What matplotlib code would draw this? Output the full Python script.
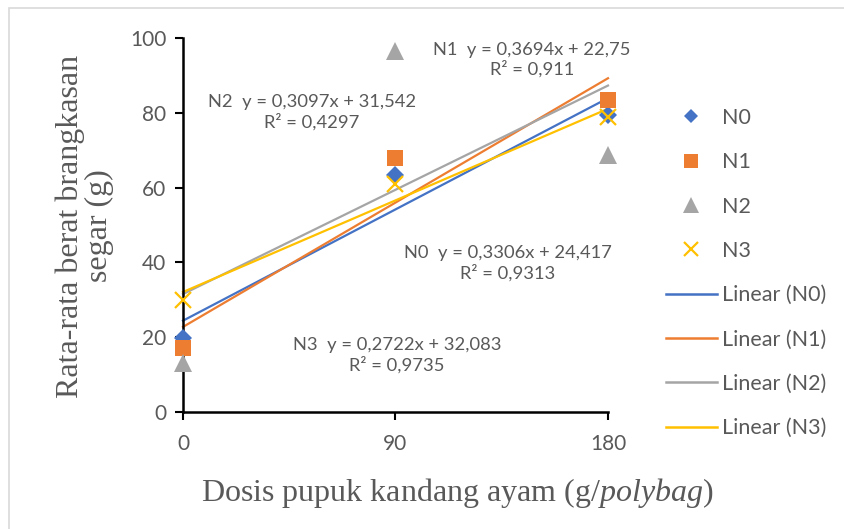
import matplotlib
matplotlib.use('Agg')
import matplotlib.pyplot as plt
import numpy as np
from matplotlib.patches import Rectangle
from matplotlib.lines import Line2D

# data
dosis = [0, 90, 180]
n0 = [19.8, 63.5, 79.3]
n1 = [17.0, 68.0, 83.5]
n2 = [13.0, 96.5, 68.7]
n3 = [30.0, 61.0, 79.0]
series_names = ["N0", "N1", "N2", "N3"]
slopes = [0.3306, 0.3694, 0.3097, 0.2722]
intercepts = [24.417, 22.75, 31.542, 32.083]
r2 = ["0,9313", "0,911", "0,4297", "0,9735"]
eq_text = ["y = 0,3306x + 24,417", "y = 0,3694x + 22,75",
           "y = 0,3097x + 31,542", "y = 0,2722x + 32,083"]
# label anchor points (data coords) for the trendline equations
eq_pos = [(137.6, 39.8), (147.8, 94.2), (54.6, 80.2), (90.6, 15.2)]

colors = ["#4472C4", "#ED7D31", "#A5A5A5", "#FFC000"]
markers = ["D", "s", "^", "x"]
msizes = [8.8, 12.2, 12.7, 12]
leg_msizes = [7.5, 10.5, 11, 10.5]
gray = "#595959"

plt.rcParams['font.family'] = ['Lato', 'DejaVu Sans']
plt.rcParams['mathtext.fontset'] = 'custom'
plt.rcParams['mathtext.rm'] = 'Liberation Serif'
plt.rcParams['mathtext.it'] = 'Liberation Serif:italic'

fig = plt.figure(figsize=(8.45, 5.29), dpi=100)
ax = fig.add_axes([183 / 845, 1 - 412 / 529, 425 / 845, 374 / 529])

# chart area border
fig.patches.append(Rectangle((9 / 845, -0.05), 1.0, 1 - 8 / 529 + 0.05,
                             transform=fig.transFigure, fill=False,
                             edgecolor="#D9D9D9", linewidth=1.2))

all_y = [n0, n1, n2, n3]
for i, ys in enumerate(all_y):
    mew = 1.6 if markers[i] == "x" else 0
    ax.plot(dosis, ys, linestyle="none", marker=markers[i],
            markersize=msizes[i], color=colors[i], markeredgewidth=mew,
            clip_on=False, zorder=3)

xx = np.array([dosis[0], dosis[-1]])
for i in range(4):
    ax.plot(xx, slopes[i] * xx + intercepts[i], color=colors[i], lw=1.6,
            clip_on=False, zorder=2)

for i in range(4):
    ax.text(eq_pos[i][0], eq_pos[i][1],
            f"{series_names[i]}  {eq_text[i]}\nR² = {r2[i]}",
            ha="center", va="center", color=gray, fontsize=13.2,
            linespacing=1.2, clip_on=False)

ax.set_xlim(0, 180)
ax.set_ylim(0, 100)
ax.set_xticks(dosis)
ax.set_yticks([0, 20, 40, 60, 80, 100])
ax.tick_params(labelsize=15, length=6, width=1.5, direction="out", pad=6,
               colors="black", labelcolor=gray)
ax.tick_params(axis="x", pad=10)
for s in ["top", "right"]:
    ax.spines[s].set_visible(False)
for s in ["left", "bottom"]:
    ax.spines[s].set_linewidth(1.8)
ax.patch.set_visible(False)

fig.text(85 / 845, 1 - 226 / 529, "Rata-rata berat brangkasan\nsegar (g)",
         rotation=90, ha="center", va="center", family="Liberation Serif",
         fontsize=23, color=gray, linespacing=1.0)
fig.text(457 / 845, 1 - 493 / 529,
         r"Dosis pupuk kandang ayam (g/$\it{polybag}$)",
         ha="center", va="center", family="Liberation Serif",
         fontsize=23, color=gray)

handles = []
for i in range(4):
    mew = 1.6 if markers[i] == "x" else 0
    handles.append(Line2D([], [], linestyle="none", marker=markers[i],
                          markersize=leg_msizes[i], color=colors[i],
                          markeredgewidth=mew))
for i in range(4):
    handles.append(Line2D([], [], color=colors[i], lw=1.8))
labels = series_names + [f"Linear ({n})" for n in series_names]
leg = fig.legend(handles, labels, loc="center left",
                 bbox_to_anchor=(666 / 845, 1 - 273 / 529), frameon=False,
                 fontsize=15.5, handlelength=2.35, handletextpad=0.25,
                 labelspacing=1.13, borderpad=0, borderaxespad=0)
for t in leg.get_texts():
    t.set_color(gray)

fig.savefig("out.png", dpi=100, facecolor="white")
